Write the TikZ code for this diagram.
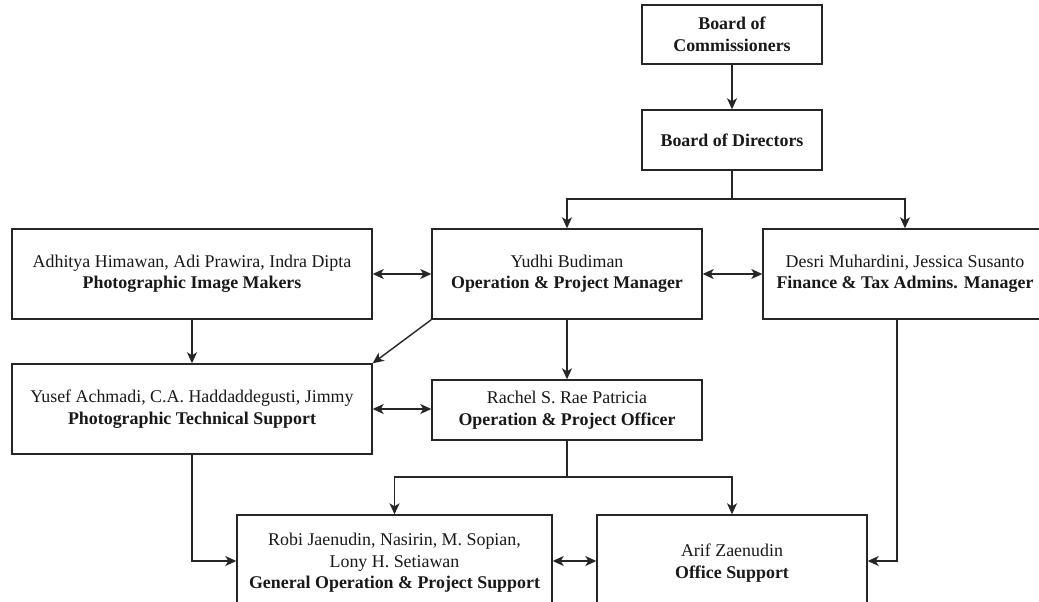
\documentclass[tikz,border=0pt]{standalone}
\usepackage{fontspec}
\setmainfont{Liberation Serif}
\usetikzlibrary{arrows.meta}
\begin{document}
\begin{tikzpicture}[x=1pt,y=-1pt,
  box/.style={draw=black!85,line width=1.4pt,rectangle,align=center,inner sep=2pt,
    font=\fontsize{17.9}{21.5}\selectfont,text=black!90},
  conn/.style={draw=black!85,line width=1.4pt},
  arr/.style={conn,-{Stealth[length=11pt,width=10pt,inset=3pt]}},
  darr/.style={conn,{Stealth[length=11pt,width=10pt,inset=3pt]}-{Stealth[length=11pt,width=10pt,inset=3pt]}}]
\path[use as bounding box] (0,0) rectangle (1039,602);
\clip (0,0) rectangle (1039,602);
\fill[white] (0,0) rectangle (1039,602);
\node[box,minimum width=180pt,minimum height=59pt] (boc) at (732,34.5) {\textbf{Board of}\\\textbf{Commissioners}};
\node[box,minimum width=180pt,minimum height=60pt] (bod) at (732,140) {\textbf{Board of Directors}};
\node[box,minimum width=360pt,minimum height=90pt] (adh) at (192,274) {Adhitya Himawan, Adi Prawira, Indra Dipta\\\textbf{Photographic Image Makers}};
\node[box,minimum width=270pt,minimum height=90pt] (yud) at (567,274) {Yudhi Budiman\\\textbf{Operation \& Project Manager}};
\node[box,minimum width=284pt,minimum height=90pt] (des) at (905,274) {Desri Muhardini, Jessica Susanto\\\textbf{Finance \& Tax Admins. Manager}};
\node[box,minimum width=360pt,minimum height=90pt] (yus) at (192,409) {Yusef Achmadi, C.A. Haddaddegusti, Jimmy\\\textbf{Photographic Technical Support}};
\node[box,minimum width=270pt,minimum height=60pt] (rac) at (567,410) {Rachel S. Rae Patricia\\\textbf{Operation \& Project Officer}};
\node[box,minimum width=315pt,minimum height=96pt] (rob) at (394.5,563) {Robi Jaenudin, Nasirin, M. Sopian,\\Lony H. Setiawan\\\textbf{General Operation \& Project Support}};
\node[box,minimum width=270pt,minimum height=96pt] (arif) at (732,563) {Arif Zaenudin\\\textbf{Office Support}};
\coordinate (split1) at (732,199);
\coordinate (split2) at (567,477);
\draw[arr] (boc) -- (bod);
\draw[conn] (bod.south) -- (split1);
\draw[arr] (split1) -| (yud.north);
\draw[arr] (split1) -| (des.north);
\draw[darr] (adh.east) -- (yud.west);
\draw[darr] (yud.east) -- (des.west);
\draw[arr] (adh.south) -- (yus.north);
\draw[arr] (yud.south) -- (rac.north);
\draw[arr] (yud.south west) -- (yus.north east);
\draw[darr] (yus.east) -- (yus.east -| rac.west);
\draw[conn] (rac.south) -- (split2);
\draw[arr] (split2) -| (rob.north);
\draw[arr] (split2) -| (arif.north);
\draw[darr] ([yshift=2pt]rob.east) -- ([yshift=2pt]arif.west);
\draw[arr] (yus.south) |- ([yshift=2pt]rob.west);
\draw[arr] ([xshift=-8pt]des.south) |- ([yshift=2pt]arif.east);
\end{tikzpicture}
\end{document}
